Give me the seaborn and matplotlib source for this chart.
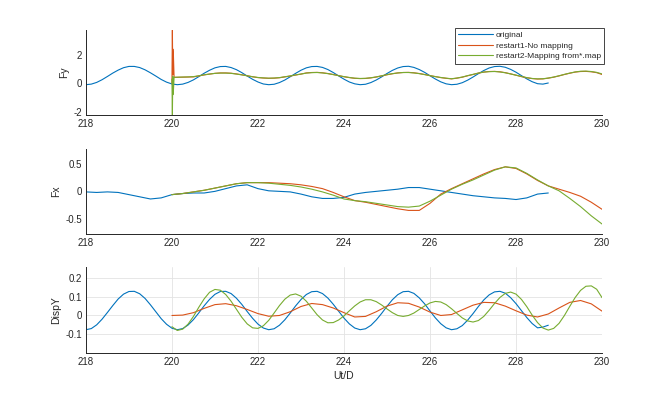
import numpy as np
import matplotlib
matplotlib.use("Agg")
import matplotlib.pyplot as plt
from matplotlib.ticker import FuncFormatter
import seaborn as sns

# sample grids (Ut/D)
t_orig_fine = np.round(np.linspace(218.0, 228.75, 87), 3)
t_orig = np.round(np.linspace(218.0, 228.75, 44), 3)
t_restart = np.round(np.linspace(220.0, 230.0, 41), 3)
t_fy_restart = [220.0, 220.01, 220.02, 220.03, 220.05] + list(np.round(np.linspace(220.125, 230.0, 80), 3))
t_disp_r2 = np.round(np.linspace(220.0, 230.0, 81), 3)

labels = ["original", "restart1-No mapping", "restart2-Mapping from*.map"]
colors = ["#0072BD", "#D95319", "#77AC30"]

# Fy
fy_orig = [-0.10, -0.06, 0.06, 0.25, 0.48, 0.72, 0.93, 1.10, 1.19, 1.19,
           1.11, 0.95, 0.74, 0.51, 0.27, 0.08, -0.05, -0.10, -0.06, 0.06,
           0.24, 0.47, 0.71, 0.92, 1.09, 1.18, 1.19, 1.11, 0.96, 0.75,
           0.51, 0.28, 0.09, -0.05, -0.10, -0.07, 0.05, 0.23, 0.46, 0.70,
           0.92, 1.09, 1.18, 1.19, 1.12, 0.97, 0.76, 0.52, 0.29, 0.09,
           -0.04, -0.10, -0.07, 0.05, 0.23, 0.45, 0.69, 0.91, 1.08, 1.18,
           1.20, 1.12, 0.97, 0.77, 0.53, 0.30, 0.10, -0.04, -0.10, -0.07,
           0.04, 0.22, 0.44, 0.68, 0.90, 1.08, 1.18, 1.20, 1.13, 0.98,
           0.78, 0.54, 0.31, 0.11, -0.03, -0.06, 0.02]
fy_r1 = [0.0, 3.75, 0.6, 2.4, 0.42,
         0.42, 0.43, 0.44, 0.45, 0.52, 0.59, 0.65, 0.70, 0.73, 0.73, 0.71, 0.66,
         0.60, 0.53, 0.46, 0.40, 0.37, 0.35, 0.36, 0.39, 0.45, 0.51, 0.58, 0.65,
         0.73, 0.76, 0.77, 0.74, 0.69, 0.62, 0.54, 0.46, 0.40, 0.35, 0.33, 0.34,
         0.38, 0.44, 0.52, 0.60, 0.67, 0.73, 0.76, 0.77, 0.74, 0.69, 0.62, 0.54,
         0.47, 0.40, 0.35,
         0.31, 0.36, 0.43, 0.53, 0.62, 0.72, 0.79, 0.83, 0.84, 0.81, 0.75, 0.66,
         0.57, 0.47, 0.39, 0.33, 0.30, 0.31, 0.36, 0.43, 0.52, 0.62, 0.71, 0.79,
         0.83, 0.84, 0.81, 0.75, 0.62]
fy_r2 = [0.3, -2.25, 0.5, -0.8, 0.42,
         0.43, 0.44, 0.45, 0.47, 0.53, 0.60, 0.65, 0.70, 0.72, 0.72, 0.70, 0.65,
         0.59, 0.53, 0.46, 0.41, 0.38, 0.36, 0.37, 0.40, 0.46, 0.52, 0.59, 0.65,
         0.72, 0.75, 0.76, 0.73, 0.68, 0.61, 0.54, 0.47, 0.41, 0.36, 0.34, 0.35,
         0.39, 0.45, 0.53, 0.61, 0.68, 0.73, 0.76, 0.76, 0.73, 0.68, 0.61, 0.54,
         0.47, 0.41, 0.36,
         0.32, 0.37, 0.44, 0.54, 0.63, 0.72, 0.79, 0.82, 0.83, 0.80, 0.74, 0.66,
         0.57, 0.48, 0.40, 0.34, 0.31, 0.32, 0.37, 0.44, 0.53, 0.63, 0.72, 0.80,
         0.85, 0.86, 0.83, 0.77, 0.66]

# Fx
fx_orig = [-0.01, -0.02, -0.01, -0.02, -0.06, -0.10, -0.14, -0.12, -0.06, -0.04,
           -0.03, -0.03, 0.00, 0.05, 0.10, 0.12, 0.05, 0.01, 0.00, -0.01,
           -0.05, -0.10, -0.13, -0.13, -0.11, -0.05, -0.02, 0.00, 0.02, 0.04,
           0.07, 0.07, 0.04, 0.01, -0.02, -0.05, -0.08, -0.10, -0.12, -0.13,
           -0.15, -0.12, -0.05, -0.03]
fx_r1 = [-0.06, -0.04, -0.01, 0.02, 0.06, 0.10, 0.14, 0.16, 0.16, 0.16,
         0.15, 0.14, 0.12, 0.09, 0.05, -0.02, -0.10, -0.17, -0.20, -0.24,
         -0.28, -0.32, -0.35, -0.35, -0.22, -0.05, 0.05, 0.14, 0.23, 0.32,
         0.40, 0.45, 0.42, 0.32, 0.20, 0.10, 0.04, -0.02, -0.09, -0.20, -0.33]
fx_r2 = [-0.06, -0.04, -0.01, 0.02, 0.06, 0.10, 0.14, 0.16, 0.16, 0.15,
         0.13, 0.11, 0.08, 0.04, -0.01, -0.07, -0.14, -0.17, -0.19, -0.22,
         -0.25, -0.28, -0.29, -0.27, -0.18, -0.07, 0.04, 0.13, 0.21, 0.30,
         0.39, 0.45, 0.43, 0.33, 0.21, 0.10, 0.01, -0.13, -0.28, -0.45, -0.60]

# DispY
dy_orig = [-0.076, -0.070, -0.050, -0.020, 0.016, 0.053, 0.088, 0.114, 0.128, 0.129,
           0.116, 0.091, 0.057, 0.020, -0.017, -0.047, -0.068, -0.076, -0.070, -0.051,
           -0.022, 0.014, 0.052, 0.086, 0.113, 0.128, 0.129, 0.117, 0.092, 0.059,
           0.021, -0.015, -0.046, -0.067, -0.076, -0.071, -0.052, -0.023, 0.013, 0.051,
           0.085, 0.112, 0.127, 0.129, 0.117, 0.093, 0.060, 0.023, -0.014, -0.045,
           -0.067, -0.076, -0.071, -0.053, -0.024, 0.011, 0.049, 0.084, 0.111, 0.127,
           0.129, 0.118, 0.094, 0.062, 0.024, -0.013, -0.044, -0.066, -0.076, -0.071,
           -0.054, -0.025, 0.010, 0.048, 0.083, 0.110, 0.126, 0.129, 0.119, 0.095,
           0.063, 0.026, -0.011, -0.043, -0.066, -0.062, -0.052]
dy_r1 = [0.0, 0.002, 0.015, 0.038, 0.058, 0.063, 0.052, 0.032, 0.010, -0.004,
         0.0, 0.020, 0.048, 0.064, 0.058, 0.040, 0.015, -0.008, -0.005, 0.020,
         0.050, 0.068, 0.065, 0.045, 0.018, 0.0, 0.005, 0.030, 0.055, 0.070,
         0.068, 0.050, 0.025, 0.002, -0.008, 0.008, 0.040, 0.070, 0.080, 0.062, 0.023]
dy_r2 = [-0.060, -0.080, -0.073, -0.046, -0.005, 0.044, 0.089, 0.124, 0.139,
         0.135, 0.112, 0.076, 0.033, -0.010, -0.045, -0.066, -0.069,
         -0.055, -0.026, 0.013, 0.053, 0.087, 0.109, 0.115,
         0.103, 0.076, 0.040, 0.004, -0.024, -0.039, -0.038,
         -0.024, -0.002, 0.025, 0.051, 0.072, 0.084, 0.084,
         0.074, 0.056, 0.035, 0.015, 0.000, -0.005, 0.000,
         0.013, 0.032, 0.051, 0.067, 0.075, 0.072, 0.058,
         0.036, 0.011, -0.013, -0.029, -0.035, -0.027, -0.005,
         0.028, 0.064, 0.096, 0.118, 0.125, 0.114, 0.086,
         0.047, 0.002, -0.038, -0.067, -0.078, -0.069, -0.042,
         0.000, 0.049, 0.096, 0.134, 0.156, 0.158, 0.140, 0.095]

sns.set_style("white")
plt.rcParams['font.family'] = ['Liberation Sans', 'DejaVu Sans']
plt.rcParams['axes.unicode_minus'] = False
dark = "#262626"

fig = plt.figure(figsize=(6.66, 3.97), dpi=100)
ax_fy = fig.add_axes([0.129, 0.710, 0.775, 0.214])
ax_fx = fig.add_axes([0.129, 0.411, 0.775, 0.214])
ax_dy = fig.add_axes([0.129, 0.111, 0.775, 0.217])

panels = [
    (ax_fy, "Fy", [(t_orig_fine, fy_orig), (t_fy_restart, fy_r1), (t_fy_restart, fy_r2)], (-2.25, 3.75), [-2, 0, 2]),
    (ax_fx, "Fx", [(t_orig, fx_orig), (t_restart, fx_r1), (t_restart, fx_r2)], (-0.78, 0.78), [-0.5, 0, 0.5]),
    (ax_dy, "DispY", [(t_orig_fine, dy_orig), (t_restart, dy_r1), (t_disp_r2, dy_r2)], (-0.2, 0.26), [-0.1, 0, 0.1, 0.2]),
]

for ax, name, series, ylim, yticks in panels:
    for (x, y), c, lab in zip(series, colors, labels):
        sns.lineplot(x=x, y=y, ax=ax, color=c, lw=0.8, sort=False,
                     label=lab if ax is ax_fy else None)
    ax.set_xlim(218, 230)
    ax.set_ylim(*ylim)
    ax.set_xticks(range(218, 231, 2))
    ax.set_yticks(yticks)
    ax.yaxis.set_major_formatter(FuncFormatter(lambda v, p: "%g" % v))
    ax.set_ylabel(name, fontsize=7.5, color=dark, labelpad=3)
    ax.tick_params(direction="in", length=3, width=0.6, labelsize=7, colors=dark, pad=3)
    for s in ["top", "right"]:
        ax.spines[s].set_visible(False)
    for s in ["left", "bottom"]:
        ax.spines[s].set_color(dark)
        ax.spines[s].set_linewidth(0.7)

ax_dy.grid(True, color="#e3e3e3", lw=0.6)
ax_dy.set_axisbelow(True)
ax_dy.set_xlabel("Ut/D", fontsize=7.5, color=dark, labelpad=3)

leg = ax_fy.legend(loc="upper right", bbox_to_anchor=(1.004, 1.03), borderaxespad=0,
                   fontsize=6, handlelength=4.2, labelspacing=0.35, handletextpad=0.3,
                   borderpad=0.4, fancybox=False, framealpha=1)
leg.get_frame().set_edgecolor(dark)
leg.get_frame().set_linewidth(0.6)

fig.savefig("out.png", dpi=100)
